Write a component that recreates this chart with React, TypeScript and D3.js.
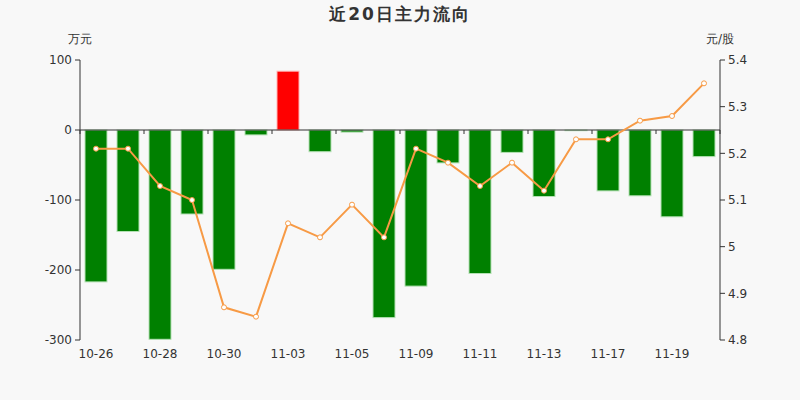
import React from "react";
import * as d3 from "d3";

const dates = ["10-26","10-27","10-28","10-29","10-30","11-02","11-03","11-04","11-05","11-06","11-09","11-10","11-11","11-12","11-13","11-16","11-17","11-18","11-19","11-20"];
const flows = [-217,-145,-299,-120,-199,-7,84,-31,-3,-268,-223,-47,-205,-32,-95,-1,-87,-94,-124,-38];
const prices = [5.21,5.21,5.13,5.10,4.87,4.85,5.05,5.02,5.09,5.02,5.21,5.18,5.13,5.18,5.12,5.23,5.23,5.27,5.28,5.35];
const leftTicks = [100,0,-100,-200,-300];
const rightTicks = [5.4,5.3,5.2,5.1,5.0,4.9,4.8];

const W = 800, H = 400;
const L = 80, R = 720, T = 60, B = 340;
const font = "'DejaVu Sans', sans-serif";
const txt = "#333";

export default function App() {
  const x = d3.scaleBand<string>().domain(dates).range([L, R]).paddingInner(0.3125).paddingOuter(0.15625);
  const band = (R - L) / dates.length;
  const yL = d3.scaleLinear().domain([-300, 100]).range([B, T]);
  const yR = d3.scaleLinear().domain([4.8, 5.4]).range([B, T]);
  const cx = (d: string) => L + dates.indexOf(d) * band + band / 2;
  const line = d3.line<number>().x((_, i) => cx(dates[i])).y(v => yR(v));
  const zero = yL(0);
  const fmtR = (v: number) => (Math.abs(v - 5) < 1e-9 ? "5" : v.toFixed(1));
  const tickXs = d3.range(0, dates.length + 1, 2).map(i => L + i * band);
  return (
    <svg width={W} height={H} style={{ display: "block", position: "absolute", left: 0, top: 0 }} fontFamily={font}>
      <rect x={0} y={0} width={W} height={H} fill="#f8f8f8" />
      <text x={400} y={20} textAnchor="middle" fontSize={17} fontWeight="bold" fill={txt} letterSpacing={2}>近20日主力流向</text>
      <text x={80} y={43} textAnchor="middle" fontSize={12} fill={txt}>万元</text>
      <text x={720} y={43} textAnchor="middle" fontSize={12} fill={txt}>元/股</text>
      {flows.map((v, i) => (
        <rect key={i} x={x(dates[i])} width={x.bandwidth()} y={yL(Math.max(0, v))} height={Math.abs(yL(v) - zero)}
          fill={v >= 0 ? "#ff0000" : "#008000"} stroke={v >= 0 ? "#ffb3b3" : "#b3e0b3"} strokeWidth={1} />
      ))}
      <line x1={L} x2={L} y1={T} y2={B} stroke={txt} />
      {leftTicks.map(t => (
        <g key={t}>
          <line x1={L - 5} x2={L} y1={yL(t)} y2={yL(t)} stroke={txt} />
          <text x={L - 8} y={yL(t)} dy="0.35em" textAnchor="end" fontSize={12} fill={txt}>{t}</text>
        </g>
      ))}
      <line x1={R} x2={R} y1={T} y2={B} stroke={txt} />
      {rightTicks.map(t => (
        <g key={t}>
          <line x1={R} x2={R + 5} y1={yR(t)} y2={yR(t)} stroke={txt} />
          <text x={R + 8} y={yR(t)} dy="0.35em" textAnchor="start" fontSize={12} fill={txt}>{fmtR(t)}</text>
        </g>
      ))}
      <line x1={L} x2={R} y1={zero} y2={zero} stroke={txt} />
      {tickXs.map(tx => (
        <line key={tx} x1={tx} x2={tx} y1={zero} y2={zero + 4} stroke={txt} />
      ))}
      {dates.map((d, i) => i % 2 === 0 ? (
        <text key={d} x={cx(d)} y={358} textAnchor="middle" fontSize={12} fill={txt}>{d}</text>
      ) : null)}
      <path d={line(prices) || ""} fill="none" stroke="#f79a45" strokeWidth={2} />
      {prices.map((p, i) => (
        <circle key={i} cx={cx(dates[i])} cy={yR(p)} r={2.5} fill="#fff" stroke="#f79a45" strokeWidth={1} />
      ))}
    </svg>
  );
}
